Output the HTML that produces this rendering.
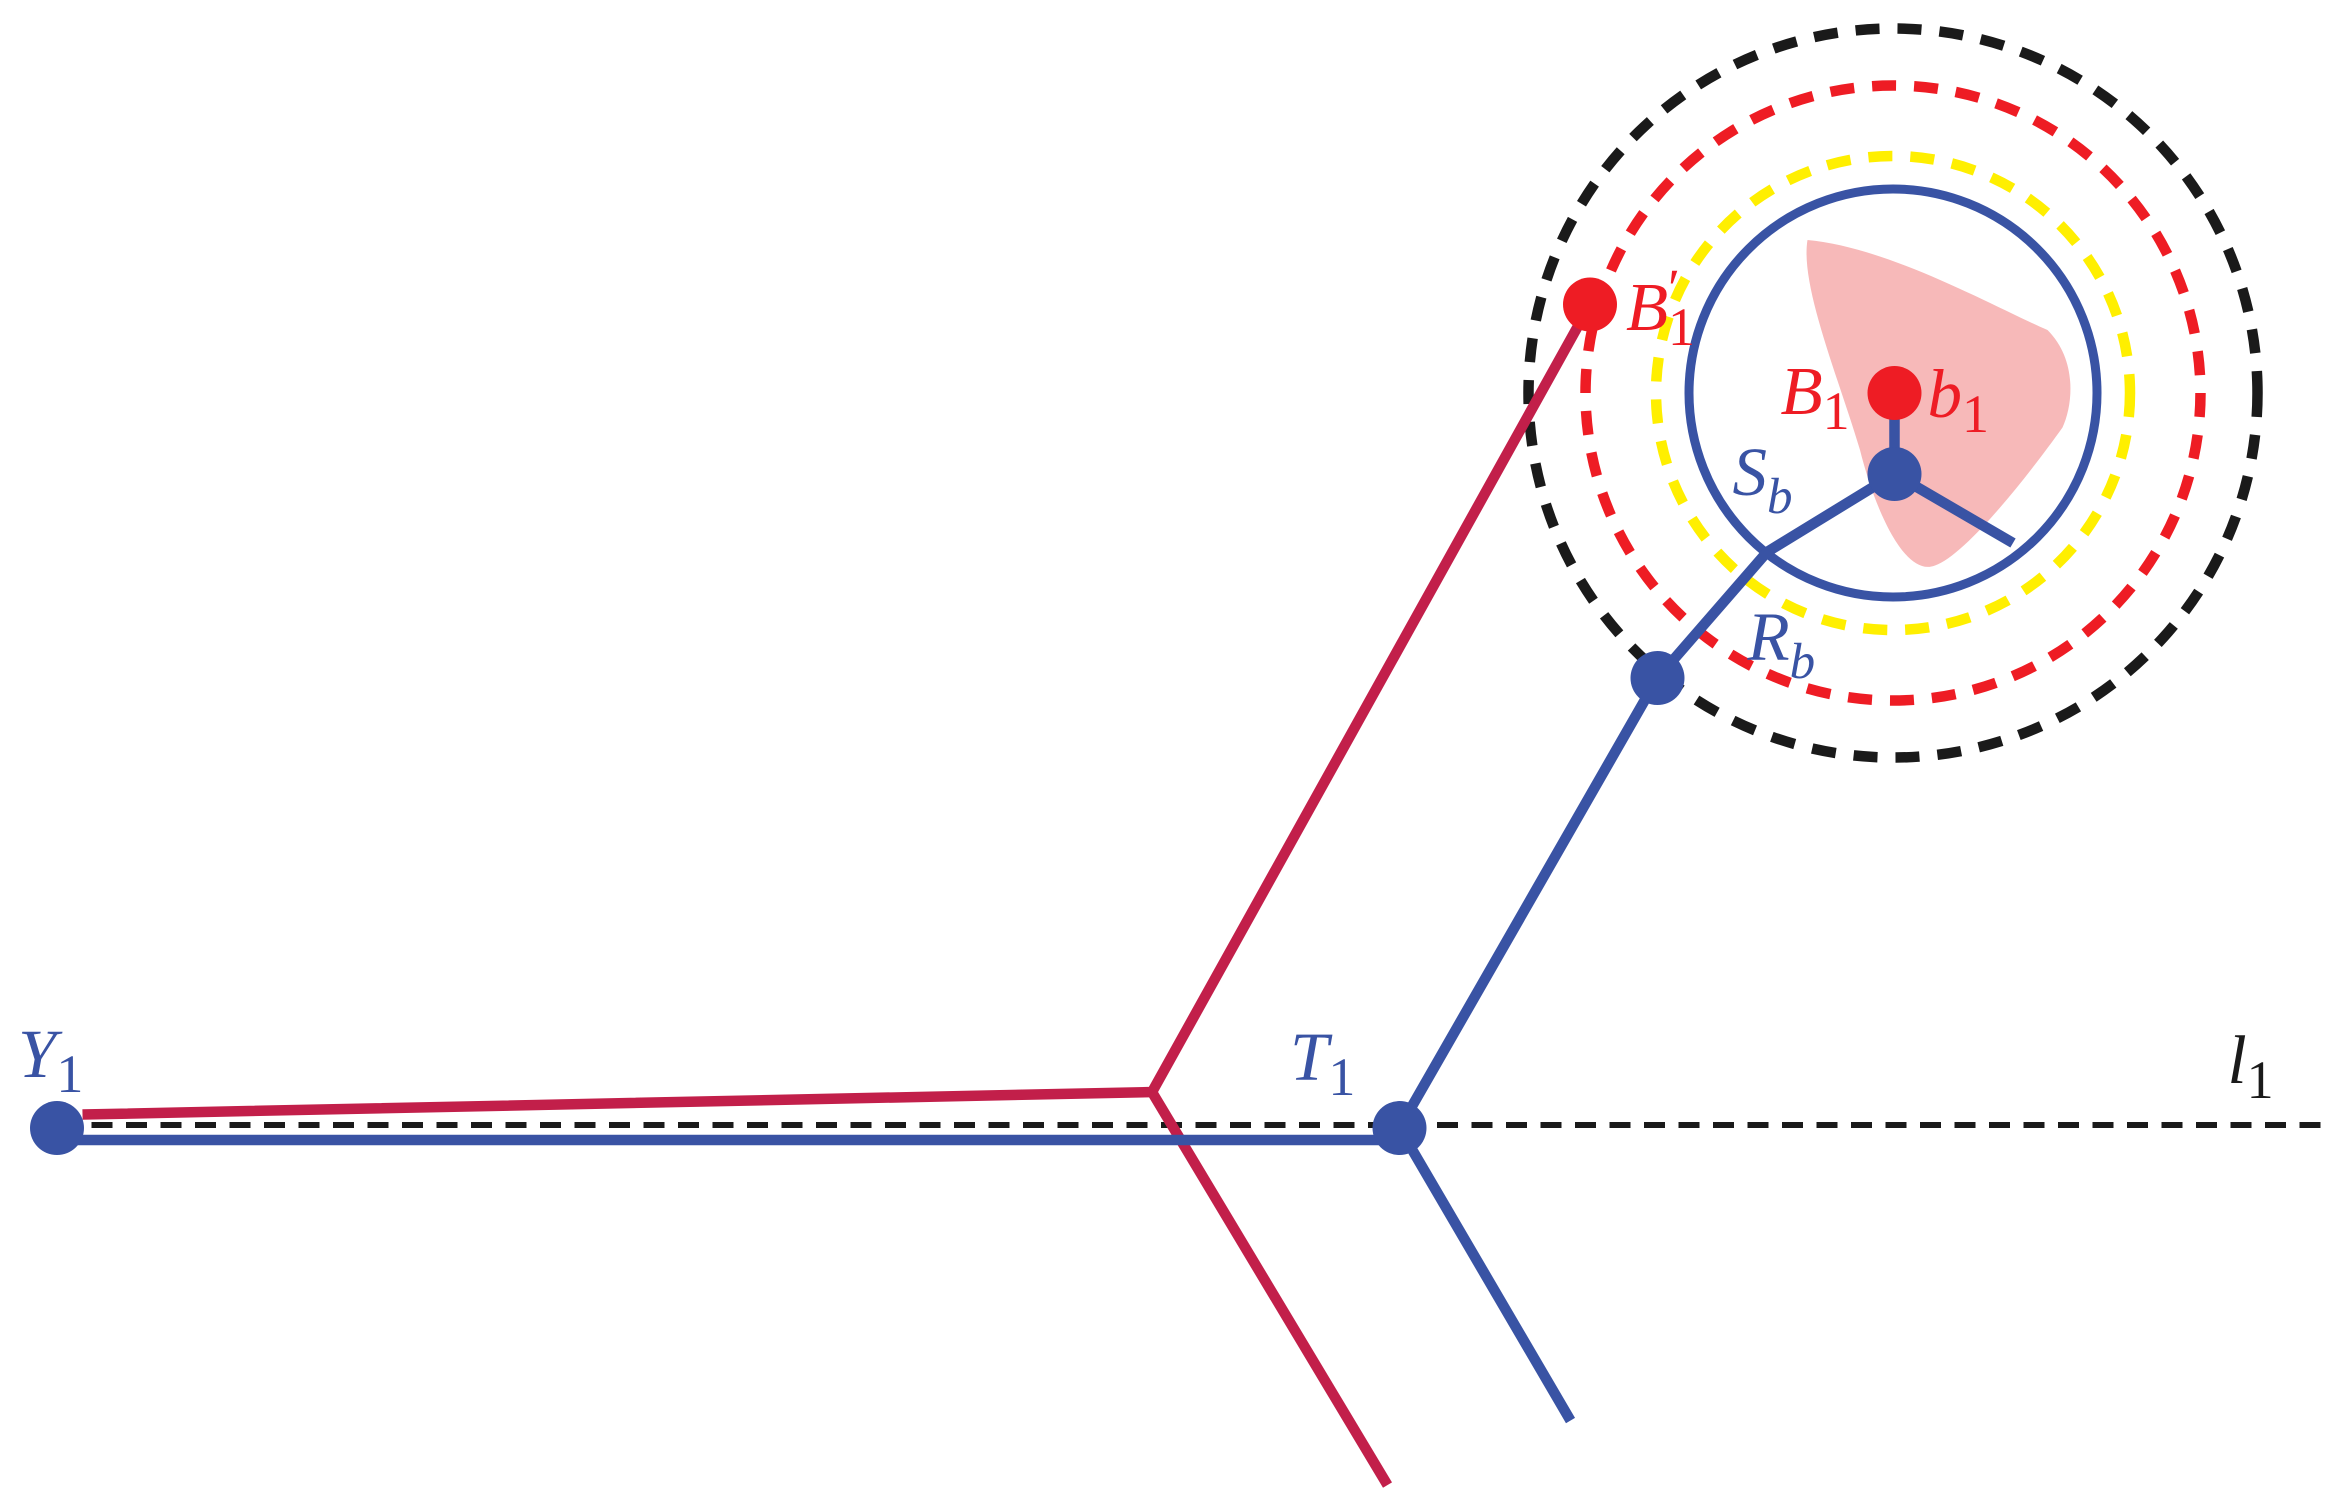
<!DOCTYPE html>
<html><head><meta charset="utf-8"><style>
html,body{margin:0;padding:0;background:#fff;}
svg{display:block;}
text{font-family:"Liberation Serif",serif;font-style:italic;}
</style></head><body>
<svg width="2340" height="1496" viewBox="0 0 1560 997.3" preserveAspectRatio="none" xmlns="http://www.w3.org/2000/svg">
<!-- pink region -->
<path d="M1205,160 C1260,165 1330,205 1365,220 C1385,240 1382,270 1375,285 C1350,320 1310,370 1290,377 C1270,385 1250,340 1240,300 C1225,250 1200,190 1205,160 Z" fill="#f7b9b9"/>
<!-- circles -->
<circle cx="1262" cy="262" r="243" fill="none" stroke="#1a1a1a" stroke-width="7" stroke-dasharray="16 12"/>
<circle cx="1262" cy="262" r="205" fill="none" stroke="#ee1c24" stroke-width="7" stroke-dasharray="16 12"/>
<circle cx="1262" cy="262" r="158" fill="none" stroke="#ffef00" stroke-width="7" stroke-dasharray="16 12"/>
<circle cx="1262" cy="262" r="136" fill="none" stroke="#3953a4" stroke-width="6"/>
<!-- dashed l1 -->
<line x1="38" y1="750" x2="1550" y2="750" stroke="#1a1a1a" stroke-width="4" stroke-dasharray="14 9"/>
<!-- red path -->
<polyline points="55,743 768,728 1060,203" fill="none" stroke="#c21f4a" stroke-width="7"/>
<line x1="768" y1="728" x2="925" y2="990" stroke="#c21f4a" stroke-width="7"/>
<!-- blue paths -->
<polyline points="38,760 933,760" fill="none" stroke="#3953a4" stroke-width="7"/>
<polyline points="933,752 1105,452 1178,368 1263,316" fill="none" stroke="#3953a4" stroke-width="7"/>
<line x1="933" y1="752" x2="1047" y2="947" stroke="#3953a4" stroke-width="7"/>
<line x1="1263" y1="316" x2="1263" y2="262" stroke="#3953a4" stroke-width="7"/>
<line x1="1263" y1="316" x2="1342" y2="362" stroke="#3953a4" stroke-width="7"/>
<!-- points -->
<circle cx="38" cy="752" r="18" fill="#3953a4"/>
<circle cx="933" cy="752" r="18" fill="#3953a4"/>
<circle cx="1105" cy="452" r="18" fill="#3953a4"/>
<circle cx="1263" cy="316" r="18" fill="#3953a4"/>
<circle cx="1060" cy="203" r="18" fill="#ee1c24"/>
<circle cx="1263" cy="262" r="18" fill="#ee1c24"/>
<!-- labels -->
<text x="12" y="718" font-size="46" fill="#3953a4">Y<tspan font-style="normal" font-size="36" dy="10">1</tspan></text>
<text x="860" y="720" font-size="46" fill="#3953a4">T<tspan font-style="normal" font-size="36" dy="10">1</tspan></text>
<text x="1485" y="722" font-size="46" fill="#1a1a1a">l<tspan font-style="normal" font-size="36" dy="10">1</tspan></text>
<text x="1084" y="220" font-size="46" fill="#ee1c24">B<tspan font-style="normal" font-size="36" dy="-16">′</tspan><tspan font-style="normal" font-size="36" dx="-8" dy="26">1</tspan></text>
<text x="1187" y="276" font-size="46" fill="#ee1c24">B<tspan font-style="normal" font-size="36" dy="10">1</tspan></text>
<text x="1285" y="278" font-size="46" fill="#ee1c24">b<tspan font-style="normal" font-size="36" dy="10">1</tspan></text>
<text x="1155" y="330" font-size="46" fill="#3953a4">S<tspan font-size="34" dy="12">b</tspan></text>
<text x="1165" y="440" font-size="46" fill="#3953a4">R<tspan font-size="34" dy="12">b</tspan></text>
</svg>
</body></html>
